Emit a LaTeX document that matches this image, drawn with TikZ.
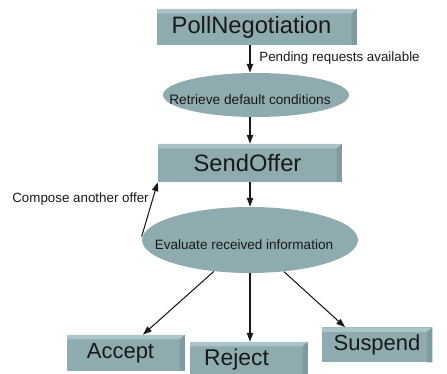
\documentclass[tikz,border=0pt]{standalone}
\usepackage{fontspec}
\setmainfont{Liberation Sans}
\usetikzlibrary{arrows.meta,shapes.geometric,calc}

\definecolor{boxfill}{RGB}{142,171,176}
\definecolor{boxtop}{RGB}{172,196,200}
\definecolor{boxside}{RGB}{125,155,161}
\definecolor{ink}{RGB}{25,25,25}

\tikzset{
  x=0.02cm, y=-0.02cm,
  statebox/.style={rectangle, fill=boxfill, inner sep=0pt, text=ink,
    font=\fontsize{13.5}{15}\selectfont,
    path picture={
      \fill[boxtop] (path picture bounding box.north west) -- (path picture bounding box.north east)
        -- ([xshift=-3pt,yshift=-2.5pt]path picture bounding box.north east)
        -- ([yshift=-2.5pt]path picture bounding box.north west) -- cycle;
      \fill[boxside] (path picture bounding box.north east) -- (path picture bounding box.south east)
        -- ([xshift=-3pt]path picture bounding box.south east)
        -- ([xshift=-3pt,yshift=-2.5pt]path picture bounding box.north east) -- cycle;
    }},
  activity/.style={ellipse, fill=boxfill, inner sep=0pt},
  acttext/.style={text=ink, inner sep=0pt, font=\fontsize{7.8}{9}\selectfont},
  lbl/.style={text=ink, inner sep=0pt, font=\fontsize{7.6}{9}\selectfont},
  flow/.style={draw=ink, line width=0.6pt, -{Triangle[length=5pt,width=3.6pt]}}
}
% pulls a caption slightly left of its box's centre
\newcommand{\leftby}[1]{\hspace*{-#1}}

\begin{document}
\begin{tikzpicture}
\useasboundingbox (0,0) rectangle (447,374);

% states
\node[statebox, minimum width=4cm, minimum height=0.72cm] (poll) at (257,27) {\leftby{0.22cm}PollNegotiation};
\node[statebox, minimum width=3.68cm, minimum height=0.76cm] (send) at (250,163) {\leftby{0.1cm}SendOffer};
\node[statebox, minimum width=2.36cm, minimum height=0.72cm, font=\fontsize{12.5}{14}\selectfont] (accept) at (126,353) {\leftby{0.22cm}Accept};
\node[statebox, minimum width=2.36cm, minimum height=0.72cm, font=\fontsize{13}{14}\selectfont] (reject) at (249,360) {\leftby{0.5cm}Reject};
\node[statebox, minimum width=2.22cm, minimum height=0.70cm, font=\fontsize{12.5}{14}\selectfont] (suspend) at (377,345) {Suspend};

% activities: ellipse first, its caption on top
\node[activity, minimum width=3.72cm, minimum height=0.88cm] (retrieve) at (256,95) {};
\node[acttext] (retrievetext) at (250,100) {Retrieve default conditions};
\node[activity, minimum width=4.32cm, minimum height=1.32cm] (eval) at (250,240) {};
\node[acttext, font=\fontsize{7.7}{9}\selectfont] (evaltext) at (244,245) {Evaluate received information};

% labels
\node[lbl, anchor=west] (pending) at (259,58) {Pending requests available};
\node[lbl, anchor=west] (compose) at (12,199) {Compose another offer};

% transitions
\draw[flow] (poll.south -| send.north) -- (retrieve.north -| send.north);
\draw[flow] (retrieve.south -| send.north) -- (send.north);
\draw[flow] (send.south) -- (eval.north);
\draw[flow] ([yshift=2pt]eval.west) -- (send.south west);
\draw[flow] (eval.221) -- ([xshift=0.34cm]accept.north);
\draw[flow] (eval.south) -- (eval.south |- reject.north);
\draw[flow] (eval.317) -- ([xshift=-0.64cm]suspend.north);
\end{tikzpicture}
\end{document}
